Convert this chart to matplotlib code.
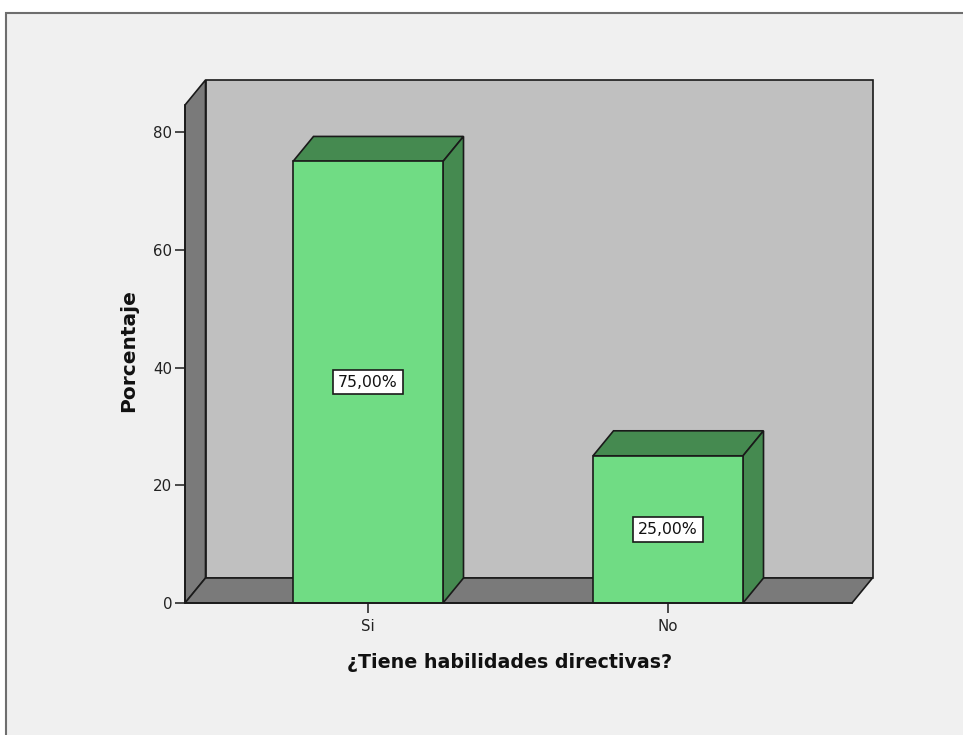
import matplotlib.pyplot as plt
import numpy as np
from matplotlib.patches import Polygon, Rectangle

# survey answers and their share of respondents
categories = ["Si", "No"]
percentages = [75.0, 25.0]
value_labels = ["75,00%", "25,00%"]
y_ticks = [0, 20, 40, 60, 80]

FRONT = "#70dc84"
SHADE = "#458a50"
WALL = "#c0c0c0"
FLOOR = "#7a7a7a"
EDGE = "#1a1a1a"
PANEL = "#f0f0f0"

plt.rcParams["font.family"] = ["DejaVu Sans"]

W, H = 963, 735
fig = plt.figure(figsize=(W / 100, H / 100), dpi=100)
fig.patch.set_facecolor("white")

# framed chart panel, kept behind the axes
fig.patches.append(
    Rectangle((6 / W, -0.01), 1.02, 1 - 13 / H + 0.01, transform=fig.transFigure,
              facecolor=PANEL, edgecolor="#6e6e6e", linewidth=1.5, zorder=-5)
)

# axes cover the front plane of the 3D box
left, right, bottom, top = 185, 852, 603, 105
ax = fig.add_axes([left / W, (H - bottom) / H, (right - left) / W, (bottom - top) / H])
ax.set_facecolor("none")
ymax = 80 * (bottom - top) / (bottom - 132)
ax.set_ylim(0, ymax)
x = np.arange(len(categories))
ax.set_xlim(-0.61, 1.6133)
x0, x1 = ax.get_xlim()

# depth offset of the box (pixels -> data units)
inv = ax.transData.inverted()
origin = ax.transData.transform((0, 0))
dx, dy = inv.transform(origin + np.array([20.5, 25.0]))

common = dict(edgecolor=EDGE, linewidth=1.2, clip_on=False, joinstyle="miter")
ax.add_patch(Polygon([(x0 + dx, dy), (x1 + dx, dy), (x1 + dx, ymax + dy), (x0 + dx, ymax + dy)],
                     facecolor=WALL, zorder=1, **common))
ax.add_patch(Polygon([(x0, 0), (x0, ymax), (x0 + dx, ymax + dy), (x0 + dx, dy)],
                     facecolor=FLOOR, zorder=1, **common))
ax.add_patch(Polygon([(x0, 0), (x1, 0), (x1 + dx, dy), (x0 + dx, dy)],
                     facecolor=FLOOR, zorder=1, **common))

width = 0.5
bars = ax.bar(x, percentages, width=width, color=FRONT, edgecolor=EDGE,
              linewidth=1.2, zorder=3)
for bar, val, lab in zip(bars, percentages, value_labels):
    bx0 = bar.get_x()
    bx1 = bx0 + bar.get_width()
    ax.add_patch(Polygon([(bx0, val), (bx1, val), (bx1 + dx, val + dy), (bx0 + dx, val + dy)],
                         facecolor=SHADE, zorder=2, **common))
    ax.add_patch(Polygon([(bx1, 0), (bx1 + dx, dy), (bx1 + dx, val + dy), (bx1, val)],
                         facecolor=SHADE, zorder=2, **common))
    ax.text(bar.get_x() + bar.get_width() / 2, val / 2, lab, ha="center", va="center",
            fontsize=11.3, color="#111111", zorder=5,
            bbox=dict(boxstyle="square,pad=0.3", facecolor="white", edgecolor=EDGE,
                      linewidth=1.2))

ax.spines[["top", "right"]].set_visible(False)
for side in ("left", "bottom"):
    ax.spines[side].set_color(EDGE)
    ax.spines[side].set_linewidth(1.2)
    ax.spines[side].set_zorder(4)
ax.set_yticks(y_ticks)
ax.set_xticks(x, categories)
ax.tick_params(axis="both", direction="out", length=7.2, width=1.1, color=EDGE,
               labelsize=10.8, labelcolor="#222222", pad=2)
ax.tick_params(axis="x", pad=4)

fig.text(509.5 / W, 1 - 663 / H, "¿Tiene habilidades directivas?", ha="center", va="center",
         fontsize=13.7, fontweight="bold", color="#111111")
fig.text(129 / W, 1 - 351 / H, "Porcentaje", ha="center", va="center", rotation=90,
         fontsize=14.5, fontweight="bold", color="#111111")

fig.savefig("out.png", dpi=100)
